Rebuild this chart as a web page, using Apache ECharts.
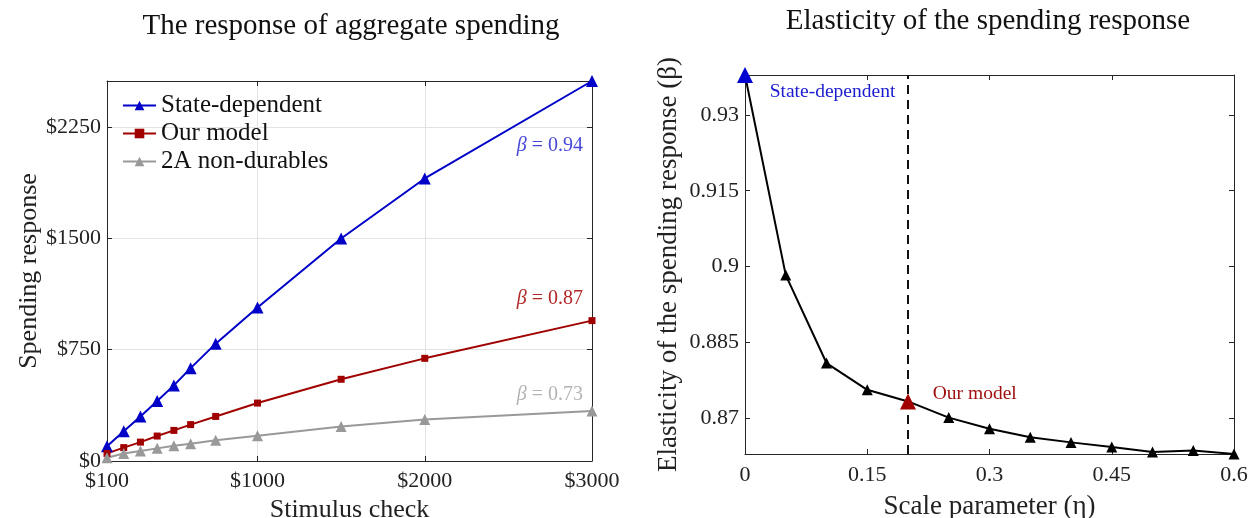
<!DOCTYPE html>
<html><head><meta charset="utf-8">
<script src="https://cdn.jsdelivr.net/npm/echarts@6/dist/echarts.min.js"></script>
<style>html,body{margin:0;padding:0;background:#fff}#c{width:1251px;height:518px}</style>
</head><body><div id="c"></div>
<script>
// ---- data ----
const checks = [100, 200, 300, 400, 500, 600, 750, 1000, 1500, 2000, 3000];
const stateDependent = [100, 201, 300, 404, 509, 625, 790, 1033, 1498, 1902, 2558];
const ourModel = [51, 90, 127, 168, 206, 245, 300, 390, 550, 691, 945];
const nonDurables = [22, 50, 67, 85, 103, 116, 139, 170, 233, 280, 336];
const checkTicks = [100, 1000, 2000, 3000];
const spendTicks = [0, 750, 1500, 2250];
const betaLabels = ['0.94', '0.87', '0.73'];
const betaLabelY = [2122, 1092, 445];

const eta = [0, 0.05, 0.1, 0.15, 0.2, 0.25, 0.3, 0.35, 0.4, 0.45, 0.5, 0.55, 0.6];
const elasticity = [0.9379, 0.8983, 0.8809, 0.8756, 0.8733, 0.8701, 0.8679, 0.8662, 0.8652, 0.8643, 0.8633, 0.8636, 0.8629];
const etaTicks = [0, 0.15, 0.3, 0.45, 0.6];
const elastTicks = [0.87, 0.885, 0.9, 0.915, 0.93];
const ourModelEta = 0.2;

const F = 'Liberation Serif';
const axisCol = '#262626';
const blue = '#0000c8', red = '#a00000', gray = '#999999';

function pairs(xs, ys) { return xs.map((x, i) => [x, ys[i]]); }

const chart = echarts.init(document.getElementById('c'), null, {renderer: 'canvas'});

function boxAxis(common, pos, grid, ticks) {
  return Object.assign({}, common, {
    gridIndex: grid, position: pos, type: 'value',
    axisLine: {show: true, onZero: false, lineStyle: {color: axisCol, width: 1}},
    axisTick: {show: true, inside: true, length: 5, customValues: ticks, lineStyle: {color: axisCol}},
    axisLabel: {show: false},
    splitLine: {show: false}
  });
}

function betaMark(i, col) {
  return {symbol: 'circle', symbolSize: 0, silent: true,
    data: [{coord: [3000, betaLabelY[i]], label: {show: true, position: 'left', distance: 9,
      formatter: '{i|β} = ' + betaLabels[i],
      rich: {i: {fontStyle: 'italic', fontFamily: F, fontSize: 20, color: col}},
      fontFamily: F, fontSize: 20, color: col}}]};
}

const option = {
  animation: false,
  backgroundColor: '#fff',
  textStyle: {fontFamily: F},
  title: [
    {text: 'The response of aggregate spending', left: 346, top: 7, textAlign: 'center',
     textStyle: {fontFamily: F, fontSize: 29, fontWeight: 'normal', color: '#111'}},
    {text: 'Elasticity of the spending response', left: 983, top: 2, textAlign: 'center',
     textStyle: {fontFamily: F, fontSize: 29, fontWeight: 'normal', color: '#111'}}
  ],
  legend: {
    left: 117, top: 88, orient: 'vertical', itemWidth: 33, itemHeight: 12, itemGap: 3,
    textStyle: {fontFamily: F, fontSize: 25, color: '#111'},
    data: ['State-dependent', 'Our model', '2A non-durables']
  },
  grid: [
    {left: 107, top: 81, width: 485, height: 380, containLabel: false, outerBoundsMode: 'none'},
    {left: 745, top: 75, width: 489, height: 379, containLabel: false, outerBoundsMode: 'none'}
  ],
  xAxis: [
    {gridIndex: 0, type: 'value', min: 100, max: 3000, position: 'bottom',
     name: 'Stimulus check', nameLocation: 'middle', nameGap: 35,
     nameTextStyle: {fontFamily: F, fontSize: 26, color: '#222'},
     axisLine: {show: true, onZero: false, lineStyle: {color: axisCol}},
     axisTick: {show: true, inside: true, length: 5, customValues: checkTicks, lineStyle: {color: axisCol}},
     axisLabel: {customValues: checkTicks, fontFamily: F, fontSize: 22, color: '#222', margin: 9,
                 formatter: v => '$' + v},
     splitLine: {show: true, lineStyle: {color: '#e3e3e3', width: 1}}},
    boxAxis({min: 100, max: 3000}, 'top', 0, checkTicks),
    {gridIndex: 1, type: 'value', min: 0, max: 0.6, position: 'bottom',
     name: 'Scale parameter (η)', nameLocation: 'middle', nameGap: 39,
     nameTextStyle: {fontFamily: F, fontSize: 27, color: '#222'},
     axisLine: {show: true, onZero: false, lineStyle: {color: axisCol}},
     axisTick: {show: true, inside: true, length: 5, customValues: etaTicks, lineStyle: {color: axisCol}},
     axisLabel: {customValues: etaTicks, fontFamily: F, fontSize: 22, color: '#222', margin: 10,
                 formatter: v => String(v)},
     splitLine: {show: false}},
    boxAxis({min: 0, max: 0.6}, 'top', 1, etaTicks)
  ],
  yAxis: [
    {gridIndex: 0, type: 'value', min: 0, max: 2558, position: 'left',
     name: 'Spending response', nameLocation: 'middle', nameGap: 65,
     nameTextStyle: {fontFamily: F, fontSize: 26, color: '#222'},
     axisLine: {show: true, onZero: false, lineStyle: {color: axisCol}},
     axisTick: {show: true, inside: true, length: 5, customValues: spendTicks, lineStyle: {color: axisCol}},
     axisLabel: {customValues: spendTicks, fontFamily: F, fontSize: 22, color: '#222', margin: 6,
                 padding: [3, 0, 0, 0], formatter: v => '$' + v},
     splitLine: {show: true, lineStyle: {color: '#e3e3e3', width: 1}}},
    boxAxis({min: 0, max: 2558}, 'right', 0, spendTicks),
    {gridIndex: 1, type: 'value', min: 0.8629, max: 0.9379, position: 'left',
     name: 'Elasticity of the spending response (β)', nameLocation: 'middle', nameGap: 63,
     nameTextStyle: {fontFamily: F, fontSize: 27, color: '#222'},
     axisLine: {show: true, onZero: false, lineStyle: {color: axisCol}},
     axisTick: {show: true, inside: true, length: 5, customValues: elastTicks, lineStyle: {color: axisCol}},
     axisLabel: {customValues: elastTicks, fontFamily: F, fontSize: 22, color: '#222', margin: 6,
                 padding: [3, 0, 0, 0], formatter: v => String(v)},
     splitLine: {show: false}},
    boxAxis({min: 0.8629, max: 0.9379}, 'right', 1, elastTicks)
  ],
  series: [
    {name: 'State-dependent', type: 'line', xAxisIndex: 0, yAxisIndex: 0,
     data: pairs(checks, stateDependent), symbol: 'triangle', symbolSize: 12,
     lineStyle: {color: blue, width: 2}, itemStyle: {color: blue},
     markPoint: betaMark(0, '#4848d8')},
    {name: 'Our model', type: 'line', xAxisIndex: 0, yAxisIndex: 0,
     data: pairs(checks, ourModel), symbol: 'rect', symbolSize: 7,
     lineStyle: {color: red, width: 2}, itemStyle: {color: red},
     markPoint: betaMark(1, '#b02828')},
    {name: '2A non-durables', type: 'line', xAxisIndex: 0, yAxisIndex: 0,
     data: pairs(checks, nonDurables), symbol: 'triangle', symbolSize: 11,
     lineStyle: {color: gray, width: 2}, itemStyle: {color: gray},
     markPoint: betaMark(2, '#b4b4b4')},
    {name: 'elasticity', type: 'line', xAxisIndex: 2, yAxisIndex: 2,
     data: eta.map((x, i) => {
       const d = {value: [x, elasticity[i]]};
       if (i === 0) { d.itemStyle = {color: '#0000d0'}; d.symbolSize = 16; }
       if (x === ourModelEta) { d.itemStyle = {color: '#a00000'}; d.symbolSize = 16; }
       return d;
     }),
     symbol: 'triangle', symbolSize: 11, z: 5,
     lineStyle: {color: '#000', width: 2}, itemStyle: {color: '#000'},
     markLine: {silent: true, symbol: 'none', label: {show: false},
       lineStyle: {color: '#111', type: [9, 6], width: 2},
       data: [{xAxis: ourModelEta}]},
     markPoint: {symbol: 'circle', symbolSize: 0, silent: true,
       data: [
         {coord: [0.0303, 0.9346], label: {show: true, position: 'right', distance: 0,
           formatter: 'State-dependent', fontFamily: F, fontSize: 19.5, color: '#1a1ad0'}},
         {coord: [0.2304, 0.8748], label: {show: true, position: 'right', distance: 0,
           formatter: 'Our model', fontFamily: F, fontSize: 19.5, color: '#a01010'}}
       ]}}
  ]
};
chart.setOption(option);
</script></body></html>
